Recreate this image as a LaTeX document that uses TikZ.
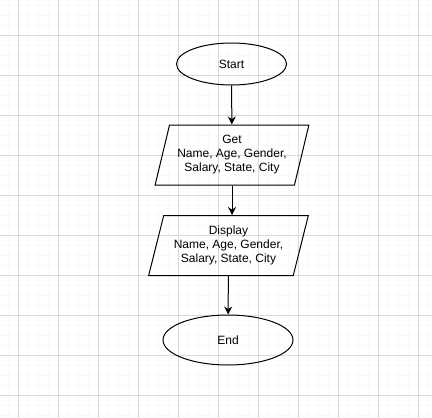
\documentclass[tikz,border=0pt]{standalone}
\usepackage{fontspec}
\setmainfont{Liberation Sans}
\usetikzlibrary{shapes.geometric,arrows.meta}

\begin{document}
\begin{tikzpicture}[
x=1pt,y=-1pt,
term/.style={
  draw,
  ellipse,
  line width=1pt,
  inner sep=0pt,
  font=\fontsize{12}{14}\selectfont
},
io/.style={
  draw,
  trapezium,
  trapezium left angle=72,
  trapezium right angle=108,
  trapezium stretches=true,
  line width=1pt,
  minimum height=60pt,
  inner sep=0pt,
  align=center,
  font=\fontsize{12}{14}\selectfont
},
flow/.style={
  line width=1pt,
  -{Stealth[length=8pt,width=8pt]}
},
minor/.style={draw=gray!5,line width=0.5pt},
major/.style={draw=gray!30,line width=0.6pt}
]
\useasboundingbox (0,0) rectangle (432,418);

% grid
\foreach \i in {0,...,42}
  \draw[minor] ({8.3+10*\i},0) -- ++(0,418);
\foreach \i in {0,...,41}
  \draw[minor] (0,{5+10*\i}) -- ++(432,0);
\foreach \i in {0,...,10}
  \draw[major] ({18.3+40*\i},0) -- ++(0,418);
\foreach \i in {0,...,9}
  \draw[major] (0,{35+40*\i}) -- ++(432,0);

\node[term,minimum width=110pt,minimum height=42pt] (start) at (231.5,64)
  {Start};
\node[io,minimum width=154pt] (get) at (232,155)
  {Get\\Name, Age, Gender,\\Salary, State, City};
\node[io,minimum width=160pt] (disp) at (228.5,245.5)
  {Display\\Name, Age, Gender,\\Salary, State, City};
\node[term,minimum width=130pt,minimum height=50pt] (end) at (228,340)
  {End};

\draw[flow] (start) -- (get);
\draw[flow] (get.south) -- (get.south |- disp.north);
\draw[flow] (disp) -- (end);
\end{tikzpicture}
\end{document}
